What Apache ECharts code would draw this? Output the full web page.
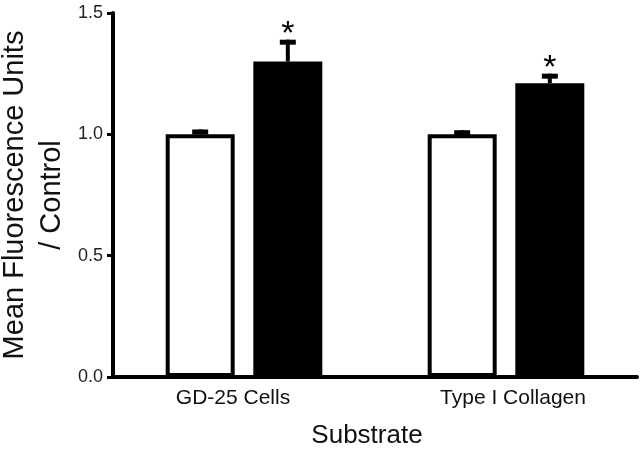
<!DOCTYPE html>
<html>
<head>
<meta charset="utf-8">
<script src="https://cdn.jsdelivr.net/npm/echarts@6/dist/echarts.min.js"></script>
<style>html,body{margin:0;padding:0;background:#fff}#c{width:643px;height:454px}</style>
</head>
<body>
<div id="c"></div>
<script>
// ---- data ----
var categories = ['GD-25 Cells', 'Type I Collagen'];
var controlValues = [1.00, 1.00];
var controlErrors = [0.02, 0.017];
var treatedValues = [1.30, 1.21];
var treatedErrors = [0.09, 0.04];
var treatedSignificant = [true, true];
var yTicks = [0, 0.5, 1.0, 1.5];
var yTitle = 'Mean Fluorescence Units\n/ Control';
var xTitle = 'Substrate';

// ---- style constants ----
var FONT = "'Liberation Sans', Arial, sans-serif";
var BAR_W = 69;
var BAR_GAP = 0.27;
var OFFSET = BAR_W * (1 + BAR_GAP) / 2;

var chart = echarts.init(document.getElementById('c'));

function errData(vals, errs, sig) {
  return vals.map(function (v, i) { return [i, v, errs[i], sig ? (sig[i] ? 1 : 0) : 0]; });
}

function errRender(dir) {
  return function (params, api) {
    var i = api.value(0), v = api.value(1), e = api.value(2), s = api.value(3);
    var base = api.coord([i, v]);
    var top = api.coord([i, v + e]);
    var x = base[0] + dir * OFFSET;
    var children = [
      { type: 'rect', shape: { x: x - 2, y: top[1], width: 4, height: base[1] - top[1] }, style: { fill: '#000' } },
      { type: 'rect', shape: { x: x - 8, y: top[1], width: 16, height: 5 }, style: { fill: '#000' } }
    ];
    if (s) {
      children.push({ type: 'text', style: { text: '*', x: x, y: top[1] - 5, textAlign: 'center', textVerticalAlign: 'middle', font: 'normal 34px ' + FONT, fill: '#000' } });
    }
    return { type: 'group', children: children };
  };
}

var labelShift = { 'GD-25 Cells': [0, 22, 0, 0], 'Type I Collagen': [0, 0, 0, 14] };

chart.setOption({
  animation: false,
  grid: { left: 113, right: 6, top: 13, bottom: 77, containLabel: false, outerBoundsMode: 'none' },
  graphic: [{
    type: 'text',
    x: 33, y: 195,
    rotation: Math.PI / 2,
    style: {
      text: yTitle,
      textAlign: 'center',
      textVerticalAlign: 'middle',
      fontSize: 29,
      fontFamily: FONT,
      lineHeight: 37,
      fill: '#111'
    }
  }],
  xAxis: {
    type: 'category',
    data: categories,
    axisLine: { lineStyle: { color: '#000', width: 4 } },
    axisTick: { show: false },
    axisLabel: {
      margin: 11,
      color: '#111',
      formatter: function (v) { return '{' + (v === categories[0] ? 'a' : 'b') + '|' + v + '}'; },
      rich: {
        a: { fontSize: 21, fontFamily: FONT, color: '#111', padding: labelShift['GD-25 Cells'] },
        b: { fontSize: 21, fontFamily: FONT, color: '#111', padding: labelShift['Type I Collagen'] }
      }
    },
    name: '{n|' + xTitle + '}',
    nameLocation: 'middle',
    nameGap: 46,
    nameTextStyle: { rich: { n: { fontSize: 26, fontFamily: FONT, color: '#111', padding: [0, 16, 0, 0] } } }
  },
  yAxis: {
    type: 'value',
    min: yTicks[0],
    max: yTicks[yTicks.length - 1],
    interval: 0.5,
    splitLine: { show: false },
    axisLine: { show: true, lineStyle: { color: '#000', width: 4 } },
    axisTick: { show: true, length: 6, lineStyle: { color: '#000', width: 3 } },
    axisLabel: {
      margin: 10,
      formatter: function (v) { return '{t|' + v.toFixed(1) + '}'; },
      rich: { t: { fontSize: 18, fontFamily: FONT, color: '#222' } }
    }
  },
  series: [
    {
      type: 'bar', data: controlValues, barWidth: BAR_W, barGap: (BAR_GAP * 100) + '%',
      itemStyle: { color: '#fff', borderColor: '#000', borderWidth: 4 }
    },
    {
      type: 'bar', data: treatedValues, barWidth: BAR_W,
      itemStyle: { color: '#000', borderColor: '#000', borderWidth: 2 }
    },
    { type: 'custom', renderItem: errRender(-1), data: errData(controlValues, controlErrors, null), z: 5 },
    { type: 'custom', renderItem: errRender(1), data: errData(treatedValues, treatedErrors, treatedSignificant), z: 5 }
  ]
});
</script>
</body>
</html>
